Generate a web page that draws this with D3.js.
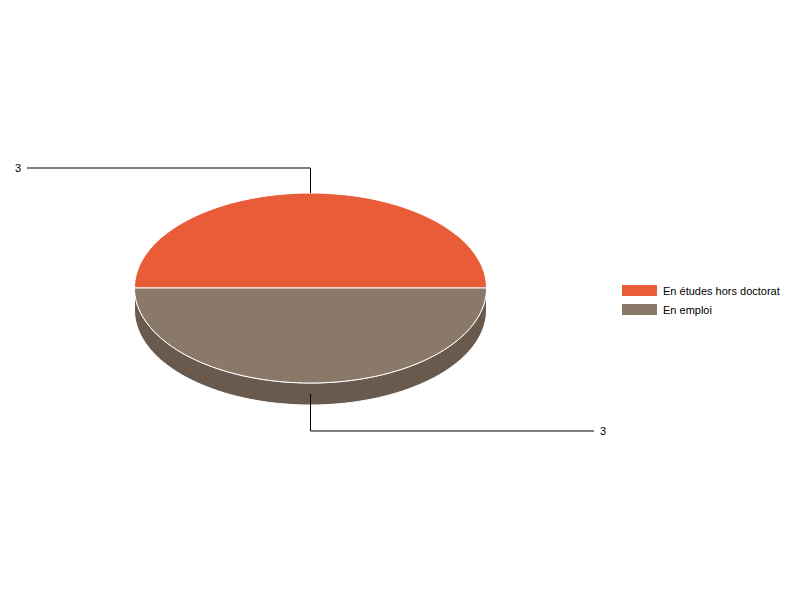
<html>
<head>
<script src="https://d3js.org/d3.v7.min.js"></script>
<style>
  body { margin: 0; background: #fff; }
  text { font-family: "Liberation Sans", Arial, sans-serif; font-size: 11px; fill: #000; }
</style>
</head>
<body>
<svg width="800" height="600"></svg>
<script>
// chart data
var categories = ["En études hors doctorat", "En emploi"];
var values = [3, 3];
var colors = ["#E85D37", "#8A7869"];
var sideColors = ["#B9492B", "#6A5A4E"];

var cx = 310.5, cy = 288, rx = 176, ry = 95, depth = 22;

var svg = d3.select("svg");

var pie = d3.pie().sort(null).startAngle(-Math.PI / 2).endAngle(3 * Math.PI / 2);
var arcs = pie(values);

// angle -> point on ellipse (d3 convention: 0 at top, clockwise)
function px(a) { return cx + rx * Math.sin(a); }
function py(a, dy) { return cy - ry * Math.cos(a) + (dy || 0); }

function topPath(d) {
  var p = d3.path();
  p.moveTo(cx, cy);
  var n = 80;
  for (var i = 0; i <= n; i++) {
    var a = d.startAngle + (d.endAngle - d.startAngle) * i / n;
    p.lineTo(px(a), py(a));
  }
  p.closePath();
  return p.toString();
}

function sidePath(d) {
  // only the front half (angles between pi/2 and 3pi/2) is visible
  var a0 = Math.max(d.startAngle, Math.PI / 2);
  var a1 = Math.min(d.endAngle, 3 * Math.PI / 2);
  if (a1 <= a0) return null;
  var p = d3.path();
  var n = 80, i, a;
  p.moveTo(px(a0), py(a0));
  for (i = 1; i <= n; i++) { a = a0 + (a1 - a0) * i / n; p.lineTo(px(a), py(a)); }
  for (i = n; i >= 0; i--) { a = a0 + (a1 - a0) * i / n; p.lineTo(px(a), py(a, depth)); }
  p.closePath();
  return p.toString();
}

var g = svg.append("g");

g.selectAll("path.side")
  .data(arcs.filter(function(d) { return sidePath(d); }))
  .enter().append("path")
  .attr("class", "side")
  .attr("d", sidePath)
  .attr("fill", function(d) { return sideColors[d.index]; })
  .attr("stroke", "#fff")
  .attr("stroke-width", 1);

g.selectAll("path.top")
  .data(arcs)
  .enter().append("path")
  .attr("class", "top")
  .attr("d", topPath)
  .attr("fill", function(d) { return colors[d.index]; })
  .attr("stroke", "#fff")
  .attr("stroke-width", 1);

// leader lines and value labels
arcs.forEach(function(d) {
  var mid = (d.startAngle + d.endAngle) / 2;
  var x0 = px(mid);
  var top = Math.cos(mid) > 0;
  var pts, tx, anchor;
  if (top) {
    var y0 = py(mid);
    var yb = y0 - 25;
    pts = [[x0, y0], [x0, yb], [27, yb]];
    tx = 21; anchor = "end";
  } else {
    var y0b = py(mid, depth / 2);
    var yb2 = py(mid) + 48;
    pts = [[x0, y0b], [x0, yb2], [594, yb2]];
    tx = 600; anchor = "start";
  }
  svg.append("path")
    .attr("d", d3.line()(pts))
    .attr("fill", "none")
    .attr("stroke", "#000")
    .attr("stroke-width", 1);
  svg.append("text")
    .attr("x", tx)
    .attr("y", pts[2][1] + 4)
    .attr("text-anchor", anchor)
    .text(values[d.index]);
});

// legend
var legend = svg.append("g").attr("transform", "translate(622,285)");
var items = legend.selectAll("g").data(categories).enter().append("g")
  .attr("transform", function(d, i) { return "translate(0," + (i * 19) + ")"; });
items.append("rect")
  .attr("width", 35).attr("height", 11)
  .attr("fill", function(d, i) { return colors[i]; });
items.append("text")
  .attr("x", 41).attr("y", 9.5)
  .text(function(d) { return d; });
</script>
</body>
</html>
